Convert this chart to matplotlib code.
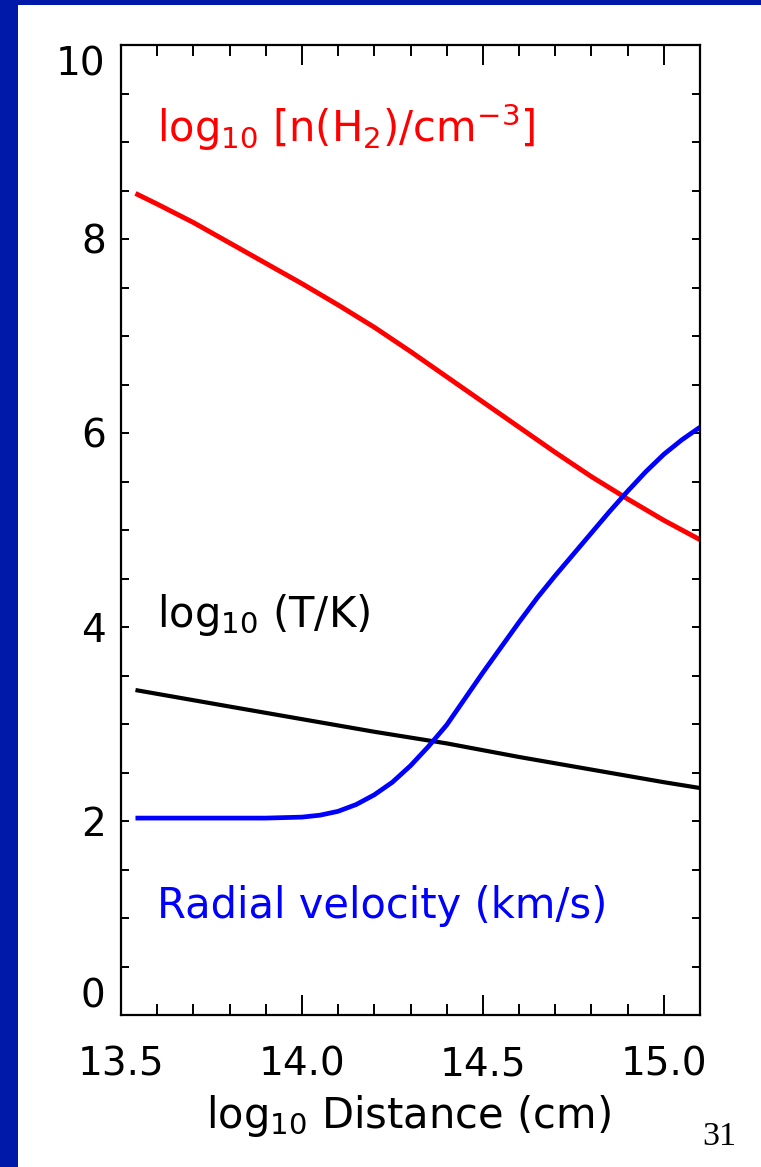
import numpy as np
import matplotlib
matplotlib.use('Agg')
import matplotlib.pyplot as plt
from matplotlib.patches import Rectangle
from matplotlib.ticker import MultipleLocator

plt.rcParams['font.family'] = 'DejaVu Sans'
plt.rcParams['mathtext.fontset'] = 'dejavusans'

# log10 distance (cm) grid and the three radial profiles
dist_n = [13.54, 13.6, 13.7, 13.8, 13.9, 14.0, 14.1, 14.2, 14.3, 14.4,
          14.5, 14.6, 14.7, 14.8, 14.9, 15.0, 15.1]
log_nH2 = [8.47, 8.36, 8.17, 7.96, 7.75, 7.54, 7.32, 7.09, 6.84, 6.58,
           6.32, 6.06, 5.80, 5.55, 5.32, 5.10, 4.90]

dist_T = [13.54, 13.8, 14.0, 14.2, 14.4, 14.6, 14.8, 15.0, 15.1]
log_T = [3.35, 3.18, 3.05, 2.92, 2.80, 2.66, 2.53, 2.40, 2.34]

dist_v = [13.54, 13.7, 13.9, 14.0, 14.05, 14.1, 14.15, 14.2, 14.25, 14.3,
          14.35, 14.4, 14.45, 14.5, 14.55, 14.6, 14.65, 14.7, 14.75, 14.8,
          14.85, 14.9, 14.95, 15.0, 15.05, 15.1]
v_rad = [2.03, 2.03, 2.03, 2.04, 2.06, 2.10, 2.17, 2.27, 2.40, 2.57,
         2.77, 2.99, 3.26, 3.53, 3.79, 4.05, 4.30, 4.53, 4.75, 4.97,
         5.19, 5.40, 5.60, 5.78, 5.93, 6.06]

xticks = [13.5, 14.0, 14.5, 15.0]
xticklabels = ['13.5', '14.0', '14.5', '15.0']
yticks = [0, 2, 4, 6, 8, 10]
yticklabels = ['0', '2', '4', '6', '8', '10']

W, H = 761, 1167
fig = plt.figure(figsize=(W / 100, H / 100), dpi=100)

# slide frame: blue bar on the left and along the top
fig.patches.append(Rectangle((0, 0), 18 / W, 1, transform=fig.transFigure,
                             facecolor='#0019A8', edgecolor='none'))
fig.patches.append(Rectangle((0, 1 - 5 / H), 1, 5 / H, transform=fig.transFigure,
                             facecolor='#0019A8', edgecolor='none'))

ax = fig.add_axes([121 / W, 1 - 1015 / H, (700 - 121) / W, (1015 - 45) / H])

ax.plot(dist_n, log_nH2, color='#FF0000', lw=3.5, solid_capstyle='butt')
ax.plot(dist_T, log_T, color='black', lw=3.0, solid_capstyle='butt')
ax.plot(dist_v, v_rad, color='#0000FF', lw=3.4, solid_capstyle='butt')

ax.set_xlim(13.5, 15.1)
ax.set_ylim(0, 10)

ax.set_xticks(xticks)
ax.set_xticklabels(xticklabels)
ax.set_yticks(yticks)
ax.set_yticklabels(yticklabels)
ax.xaxis.set_minor_locator(MultipleLocator(0.1))
ax.yaxis.set_minor_locator(MultipleLocator(0.5))

ax.tick_params(axis='x', which='major', direction='in', top=True, length=14.5,
               width=1.4, labelsize=28, pad=22)
ax.tick_params(axis='x', which='minor', direction='in', top=True, length=8,
               width=1.4)
ax.tick_params(axis='y', which='both', direction='in', right=True, length=6,
               width=1.4, labelsize=28, pad=11)

# end labels sit inside the axis range
ylabs = ax.get_yticklabels()
ylabs[0].set_va('bottom')
ylabs[-1].set_va('top')

for s in ax.spines.values():
    s.set_linewidth(1.6)

ax.text(13.6, 9.0, r'log$_{10}$ [n(H$_2$)/cm$^{-3}$]', color='#FF0000',
        fontsize=30, va='baseline', ha='left')
ax.text(13.6, 4.0, r'log$_{10}$ (T/K)', color='black',
        fontsize=30, va='baseline', ha='left')
ax.text(13.6, 1.0, 'Radial velocity (km/s)', color='#0000FF',
        fontsize=30, va='baseline', ha='left')

fig.text(408 / W, 1 - 1128 / H, r'log$_{10}$ Distance (cm)', fontsize=30,
         ha='center', va='baseline')

fig.text(702 / W, 1 - 1145 / H, '31', fontsize=24.5, family='Liberation Serif',
         ha='left', va='baseline')

fig.savefig('out.png', dpi=100)
